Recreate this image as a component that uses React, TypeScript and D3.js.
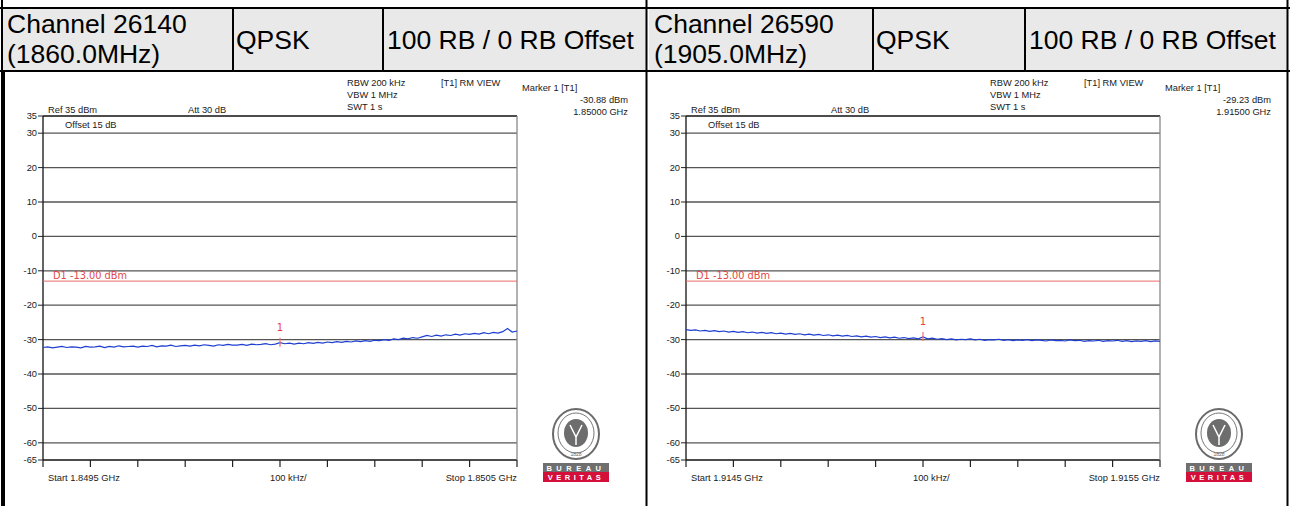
import * as d3 from 'd3';

// header cells of the table
const headerLeft = ['Channel 26140', '(1860.0MHz)'];
const headerRight = ['Channel 26590', '(1905.0MHz)'];
const modulation = 'QPSK';
const rbConfig = '100 RB / 0 RB Offset';

const yTicks = [35, 30, 20, 10, 0, -10, -20, -30, -40, -50, -60, -65];
const gridLines = [30, 20, 10, 0, -10, -20, -30, -40, -50, -60];
const limitLine = -13;

// sweep ranges (MHz)
const leftSpan = [1849.5, 1850.5];
const rightSpan = [1914.5, 1915.5];

const leftMarker = { freq: 1850.0, value: -30.88, label: '1.85000 GHz' };
const rightMarker = { freq: 1915.0, value: -29.23, label: '1.91500 GHz' };

// trace readings, 101 points across the span (dBm)
const leftTrace = [
  -32.3, -32.1, -32.4, -32.2, -32.0, -32.3, -32.1, -32.2, -32.4, -32.0, -32.2,
  -32.1, -31.9, -32.3, -32.0, -32.2, -31.8, -32.1, -32.0, -31.9, -32.2,
  -31.9, -32.0, -31.7, -32.1, -31.8, -31.9, -31.6, -32.0, -31.8, -31.7,
  -31.9, -31.6, -31.8, -31.5, -31.7, -31.9, -31.5, -31.7, -31.4, -31.6,
  -31.6, -31.4, -31.7, -31.3, -31.5, -31.4, -31.2, -31.5, -31.3, -30.9,
  -31.2, -31.0, -31.3, -31.0, -31.2, -30.9, -31.1, -30.8, -31.0, -30.7,
  -30.9, -30.6, -30.8, -30.5, -30.7, -30.4, -30.6, -30.3, -30.5, -30.2,
  -30.3, -30.0, -30.2, -29.8, -30.0, -29.6, -29.8, -29.4, -29.6, -29.2,
  -28.8, -29.1, -28.7, -29.0, -28.6, -28.8, -28.4, -28.7, -28.3, -28.5,
  -28.2, -28.4, -28.0, -28.3, -27.9, -28.1, -27.7, -26.8, -27.8, -27.5,
];

const rightTrace = [
  -27.1, -27.3, -27.2, -27.5, -27.3, -27.6, -27.4, -27.7, -27.5, -27.8, -27.6,
  -27.9, -27.7, -28.0, -27.8, -28.1, -27.9, -28.2, -28.0, -28.3, -28.1,
  -28.4, -28.2, -28.5, -28.3, -28.6, -28.4, -28.7, -28.5, -28.8, -28.6,
  -28.9, -28.7, -29.0, -28.8, -29.1, -28.9, -29.2, -29.0, -29.3, -29.1,
  -29.4, -29.2, -29.5, -29.3, -29.6, -29.4, -29.7, -29.5, -29.8, -29.2,
  -29.8, -29.6, -29.9, -29.7, -30.0, -29.8, -30.1, -29.9, -30.0, -29.8,
  -30.1, -29.9, -30.2, -30.0, -30.1, -29.9, -30.2, -30.0, -30.3, -30.1,
  -30.2, -30.0, -30.3, -30.1, -30.2, -30.4, -30.1, -30.3, -30.2, -30.4,
  -30.1, -30.3, -30.2, -30.5, -30.3, -30.4, -30.2, -30.5, -30.3, -30.4,
  -30.2, -30.5, -30.3, -30.6, -30.4, -30.5, -30.3, -30.6, -30.4, -30.5,
];

const FONT = '"Liberation Sans", Arial, sans-serif';

interface PanelProps {
  dx: number;
  span: number[];
  trace: number[];
  marker: { freq: number; value: number; label: string };
  startLabel: string;
  stopLabel: string;
}

function Logo({ x, y }: { x: number; y: number }) {
  return (
    <g transform={`translate(${x},${y})`}>
      <ellipse cx={35} cy={25} rx={23} ry={25} fill="#fff" stroke="#6a6a6a" strokeWidth={2} />
      <ellipse cx={35} cy={24} rx={18} ry={20} fill="#fff" stroke="#777" strokeWidth={1} />
      <ellipse cx={35} cy={24} rx={12} ry={14} fill="#6d6d6d" />
      <path d="M29,16 L35,28 L41,16 M35,28 L35,36" stroke="#fff" strokeWidth={1.5} fill="none" />
      <text x={35} y={47} textAnchor="middle" fontSize={5} fill="#666" fontFamily={FONT}>1828</text>
      <rect x={2} y={54} width={66} height={9} fill="#6f6f6f" />
      <text x={35} y={61.5} textAnchor="middle" fontSize={7.5} fill="#fff" fontFamily={FONT} fontWeight="bold" letterSpacing={4.5}>BUREAU</text>
      <rect x={2} y={63} width={66} height={10} fill="#d4103a" />
      <text x={35} y={71} textAnchor="middle" fontSize={7.5} fill="#fff" fontFamily={FONT} fontWeight="bold" letterSpacing={3.5}>VERITAS</text>
    </g>
  );
}

function Panel({ dx, span, trace, marker, startLabel, stopLabel }: PanelProps) {
  const x0 = 43 + dx;
  const x1 = 517 + dx;
  const x = d3.scaleLinear().domain(span).range([x0, x1]);
  const y = d3.scaleLinear().domain([-65, 35]).range([460, 116]);
  const step = (span[1] - span[0]) / (trace.length - 1);
  const line = d3
    .line<number>()
    .x((_, i) => x(span[0] + i * step))
    .y((d) => y(d));
  const divs = d3.range(0, 11).map((i) => span[0] + (i * (span[1] - span[0])) / 10);
  const mx = x(marker.freq);
  const my = y(marker.value);
  const small = { fontFamily: FONT, fontSize: 9.3, fill: '#1a1a1a' };

  return (
    <g>
      {/* settings text */}
      <text x={48 + dx} y={113} {...small}>Ref 35 dBm</text>
      <text x={188 + dx} y={113} {...small}>Att  30 dB</text>
      <text x={65 + dx} y={128} {...small}>Offset 15 dB</text>
      <text x={347 + dx} y={86} {...small}>RBW 200 kHz</text>
      <text x={347 + dx} y={98} {...small}>VBW 1 MHz</text>
      <text x={347 + dx} y={110} {...small}>SWT 1 s</text>
      <text x={441 + dx} y={86} {...small}>[T1] RM VIEW</text>
      <text x={522 + dx} y={91} {...small}>Marker 1 [T1]</text>
      <text x={628 + dx} y={103} textAnchor="end" {...small}>{marker.value.toFixed(2)} dBm</text>
      <text x={628 + dx} y={115} textAnchor="end" {...small}>{marker.label}</text>

      {/* grid */}
      {gridLines.map((g) => (
        <line key={g} x1={x0} x2={x1} y1={y(g)} y2={y(g)} stroke="#555" strokeWidth={1.3} />
      ))}
      <line x1={x0} x2={x1} y1={y(35)} y2={y(35)} stroke="#111" strokeWidth={1.3} />
      <line x1={x0} x2={x1} y1={y(-65)} y2={y(-65)} stroke="#111" strokeWidth={1.3} />
      <line x1={x1} x2={x1} y1={y(35)} y2={y(-65)} stroke="#888" strokeWidth={1.3} />
      <line x1={x0} x2={x0} y1={y(35)} y2={y(-65)} stroke="#111" strokeWidth={1.3} />

      {/* y ticks */}
      {yTicks.map((t) => (
        <g key={t}>
          <line x1={x0 - 5} x2={x0} y1={y(t)} y2={y(t)} stroke="#222" />
          <text x={x0 - 6} y={y(t) + 3} textAnchor="end" {...small}>{t}</text>
        </g>
      ))}

      {/* x division ticks */}
      {divs.map((f, i) => (
        <line key={i} x1={x(f)} x2={x(f)} y1={460} y2={467} stroke="#222" strokeWidth={1.2} />
      ))}
      <text x={48 + dx} y={481} {...small}>{startLabel}</text>
      <text x={270 + dx} y={481} {...small}>100 kHz/</text>
      <text x={x1} y={481} textAnchor="end" {...small}>{stopLabel}</text>

      {/* limit line */}
      <line x1={x0} x2={x1} y1={y(limitLine)} y2={y(limitLine)} stroke="#ee6a6a" strokeWidth={1} />
      <text x={53 + dx} y={y(limitLine) - 2} fontFamily='"DejaVu Sans", sans-serif' fontSize={9.8} fill="#e24848">
        D1 -13.00 dBm
      </text>

      {/* trace */}
      <path d={line(trace) || ''} fill="none" stroke="#1f3fd0" strokeWidth={1.2} />

      {/* marker */}
      <line x1={mx} x2={mx} y1={my - 5} y2={my + 4} stroke="#f07070" strokeWidth={1.2} />
      <text x={mx} y={my - 12} textAnchor="middle" fontFamily='"DejaVu Sans", sans-serif' fontSize={10} fill="#e84040">1</text>

      <Logo x={541 + dx} y={409} />
    </g>
  );
}

function HeaderRow({ dx, right, lines }: { dx: number; right: number; lines: string[] }) {
  const big = { fontFamily: FONT, fontSize: 26.5, fill: '#000' };
  const c1 = dx === 0 ? 233 : 873;
  const c2 = dx === 0 ? 383 : 1025;
  return (
    <g>
      <rect x={dx + 2} y={9} width={right - dx - 3} height={61} fill="#e9e9e9" />
      <line x1={c1} x2={c1} y1={8} y2={71} stroke="#000" strokeWidth={2} />
      <line x1={c2} x2={c2} y1={8} y2={71} stroke="#000" strokeWidth={2} />
      <text x={dx + 7} y={33} {...big}>{lines[0]}</text>
      <text x={dx + 7} y={63} {...big}>{lines[1]}</text>
      <text x={c1 + 3} y={49} {...big}>{modulation}</text>
      <text x={c2 + 4} y={49} {...big}>{rbConfig}</text>
    </g>
  );
}

export default function App() {
  return (
    <div style={{ position: 'absolute', left: 0, top: 0 }}>
      <svg width={1290} height={506} style={{ display: 'block', background: '#fff' }}>
        <HeaderRow dx={0} right={647} lines={headerLeft} />
        <HeaderRow dx={647} right={1288} lines={headerRight} />
        {/* table borders */}
        <line x1={0} x2={1290} y1={8} y2={8} stroke="#000" strokeWidth={2} />
        <line x1={0} x2={1290} y1={71} y2={71} stroke="#000" strokeWidth={2} />
        <line x1={2} x2={2} y1={0} y2={506} stroke="#000" strokeWidth={2} />
        <line x1={4} x2={4} y1={71} y2={506} stroke="#000" strokeWidth={2} />
        <line x1={646.5} x2={646.5} y1={0} y2={506} stroke="#000" strokeWidth={2} />
        <line x1={1287.5} x2={1287.5} y1={0} y2={506} stroke="#000" strokeWidth={2} />

        <Panel
          dx={0}
          span={leftSpan}
          trace={leftTrace}
          marker={leftMarker}
          startLabel="Start 1.8495 GHz"
          stopLabel="Stop 1.8505 GHz"
        />
        <Panel
          dx={643}
          span={rightSpan}
          trace={rightTrace}
          marker={rightMarker}
          startLabel="Start 1.9145 GHz"
          stopLabel="Stop 1.9155 GHz"
        />
      </svg>
    </div>
  );
}
